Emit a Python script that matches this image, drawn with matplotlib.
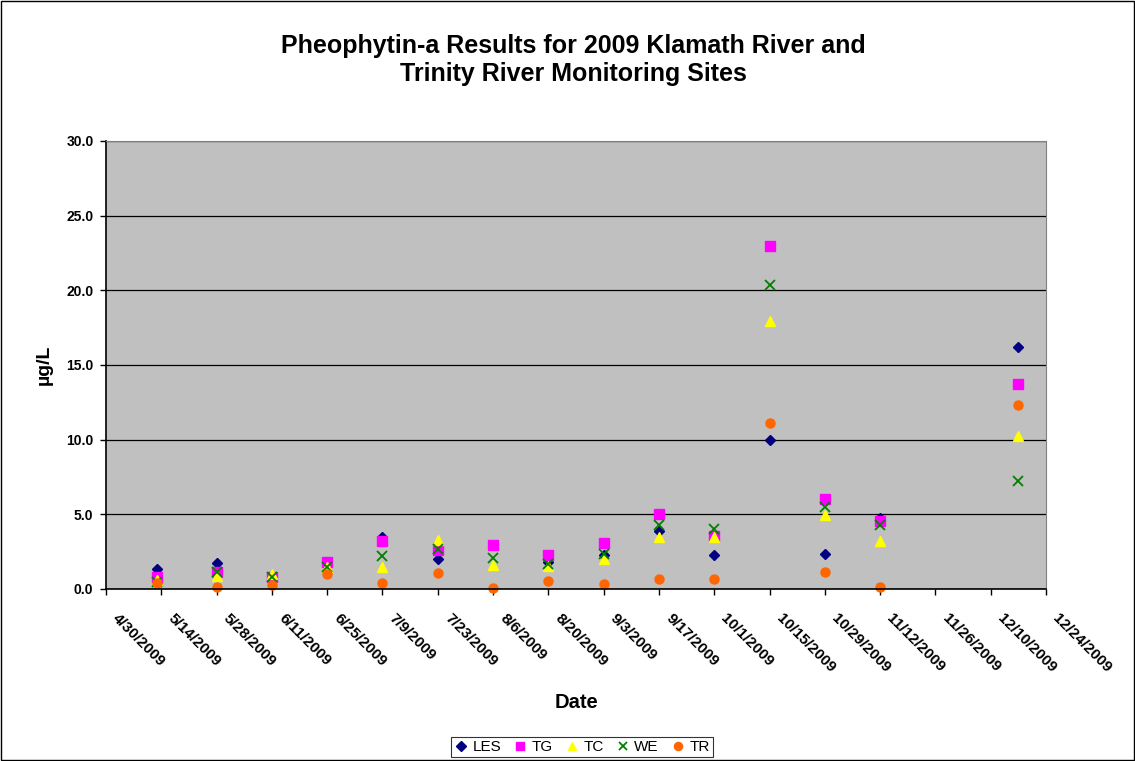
import numpy as np
import pandas as pd
import matplotlib
matplotlib.use("Agg")
import matplotlib.pyplot as plt
from matplotlib.patches import Rectangle

plt.rcParams["font.family"] = ["Liberation Sans", "DejaVu Sans"]

# datas de coleta
datas = pd.to_datetime([
    "2009-05-13", "2009-05-28", "2009-06-11", "2009-06-25", "2009-07-09",
    "2009-07-23", "2009-08-06", "2009-08-20", "2009-09-03", "2009-09-17",
    "2009-10-01", "2009-10-15", "2009-10-29", "2009-11-12", "2009-12-17",
])

# valores por estacao (ug/L)
les = [1.32, 1.72, 0.80, 1.70, 3.50, 2.01, np.nan, 1.80, 2.30, 3.87, 2.26, 9.95, 2.35, 4.77, 16.2]
tg = [0.83, 1.15, 0.83, 1.83, 3.22, 2.60, 2.97, 2.26, 3.06, 4.99, 3.58, 23.0, 6.05, 4.55, 13.7]
tc = [0.60, 0.87, 1.00, 1.50, 1.50, 3.29, 1.63, 1.55, 2.00, 3.47, 3.47, 17.97, 4.95, 3.24, 10.24]
we = [0.45, 1.16, 0.83, 1.50, 2.24, 2.68, 2.08, 1.68, 2.35, 4.27, 4.03, 20.36, 5.50, 4.28, 7.22]
tr = [0.43, 0.15, 0.27, 0.98, 0.38, 1.07, 0.07, 0.51, 0.36, 0.67, 0.67, 11.13, 1.12, 0.15, 12.35]

series = [
    ("LES", les, "D", "#000080", 5.5),
    ("TG", tg, "s", "#FF00FF", 6.5),
    ("TC", tc, "^", "#FFFF00", 7),
    ("WE", we, "x", "#008000", 6.5),
    ("TR", tr, "o", "#FF6600", 6.5),
]

fig = plt.figure(figsize=(11.35, 7.61), dpi=100)
fig.patches.append(Rectangle((0.001, 0.001), 0.998, 0.998, transform=fig.transFigure,
                             fill=False, edgecolor="black", linewidth=1))
ax = fig.add_axes([106 / 1135, 1 - 589 / 761, 940 / 1135, 448 / 761])
ax.set_facecolor("#C0C0C0")

for nome, vals, mk, cor, ms in series:
    if mk == "x":
        ax.plot(datas, vals, linestyle="none", marker=mk, color=cor, markersize=ms,
                markeredgewidth=1.3, label=nome, clip_on=False)
    else:
        ax.plot(datas, vals, linestyle="none", marker=mk, color=cor, markersize=ms,
                markeredgecolor=cor, label=nome, clip_on=False)

inicio = pd.Timestamp("2009-04-30")
fim = pd.Timestamp("2009-12-24")
ticks = pd.date_range(inicio, fim, freq="14D")
ax.set_xlim(inicio, fim)
ax.set_xticks(ticks)
ax.set_xticklabels([])

# rotulos das datas desenhados a mao (inclinados para baixo)
for d in ticks:
    ax.annotate(f"{d.month}/{d.day}/{d.year}", xy=(d, 0), xycoords=("data", "axes fraction"),
                xytext=(6.5, -19.5), textcoords="offset points", rotation=-45,
                ha="left", va="center", rotation_mode="anchor",
                fontsize=11, fontweight="bold", annotation_clip=False)

ax.set_ylim(0, 30)
ax.set_yticks(np.arange(0, 31, 5))
ax.set_yticklabels([f"{v:.1f}" for v in np.arange(0, 31, 5)], fontsize=10, fontweight="bold")
ax.yaxis.grid(True, color="black", linewidth=0.9)
ax.set_axisbelow(True)
ax.tick_params(axis="both", direction="out", length=4, color="black", width=1)
ax.tick_params(axis="y", pad=5)

for lado in ["left", "bottom"]:
    ax.spines[lado].set_linewidth(1.2)
for lado in ["top", "right"]:
    ax.spines[lado].set_color("#808080")

ax.set_ylabel("µg/L", fontsize=14, fontweight="bold", labelpad=10)
fig.text(577 / 1135, 1 - 703 / 761, "Date", fontsize=14.5, fontweight="bold", ha="center", va="center")

fig.text(573 / 1135, 1 - 60 / 761, "Pheophytin-a Results for 2009 Klamath River and\nTrinity River Monitoring Sites",
         fontsize=18, fontweight="bold", ha="center", va="center", linespacing=1.2)

leg = fig.legend(loc="center", bbox_to_anchor=(582 / 1135, 1 - 747 / 761), ncol=5,
                 fontsize=11, frameon=True, fancybox=False, edgecolor="black",
                 handlelength=0.9, handletextpad=0.3, columnspacing=0.8,
                 borderpad=0.2, markerscale=0.9)
leg.get_frame().set_linewidth(0.8)

fig.savefig("out.png", dpi=100)
